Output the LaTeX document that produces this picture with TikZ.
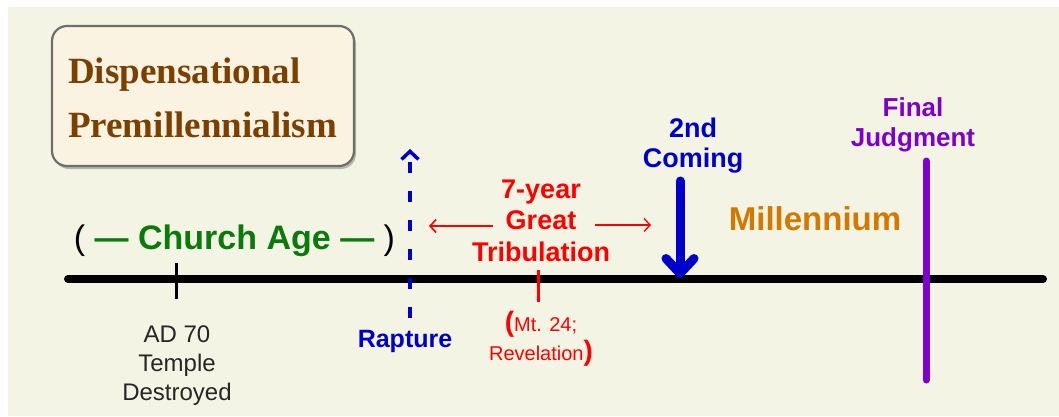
\documentclass[tikz,border=0pt]{standalone}
\usepackage{fontspec}
\setmainfont{Liberation Sans}
\newfontfamily\titlefont{Liberation Serif}
\usetikzlibrary{arrows.meta,shadows}
\definecolor{bgc}{HTML}{F4F4E4}
\definecolor{boxfill}{HTML}{FBF3E2}
\definecolor{boxline}{HTML}{6E6E6E}
\definecolor{brownc}{HTML}{7B3F00}
\definecolor{greenc}{HTML}{0A7A0A}
\definecolor{bluec}{HTML}{0000CC}
\definecolor{redc}{HTML}{FF0000}
\definecolor{orangec}{HTML}{D47800}
\definecolor{purplec}{HTML}{7F00CC}
\begin{document}
\begin{tikzpicture}[x=1pt,y=-1pt,
  titlebox/.style={draw=boxline, line width=2.2pt, fill=boxfill, rounded corners=15pt,
    drop shadow={shadow xshift=2pt, shadow yshift=-3pt, opacity=0.25, fill=black},
    minimum width=302pt, minimum height=140pt, inner sep=0pt},
  lbl/.style={inner sep=0pt, align=center, anchor=base},
  tick/.style={line width=3pt},
]
\useasboundingbox (0,0) rectangle (1059,416);
\fill[bgc] (8,7) rectangle (1059,416);

% title
\node[titlebox] (titlebox) at (203,96) {};
\node[inner sep=0pt, anchor=base west, align=left, text=brownc,
  font=\titlefont\bfseries\fontsize{37}{54}\selectfont] (title) at (68,137)
  {Dispensational\\Premillennialism};

% timeline
\coordinate (tlL) at (68,279);
\coordinate (tlR) at (1043,279);
\draw[line width=8pt, line cap=round] (tlL) -- (tlR);

% AD 70
\coordinate (adT) at (176,263);
\coordinate (adB) at (176,299);
\draw[tick] (adT) -- (adB);
\node[lbl, font=\fontsize{24}{29}\selectfont, text=black!85] (ad) at (177,400)
  {AD 70\\Temple\\Destroyed};

% church age
\node[lbl, font=\fontsize{34}{40}\selectfont] (church) at (234.5,249)
  {( {\color{greenc}\bfseries — Church Age —} )};

% rapture
\coordinate (rapB) at (410,318);
\coordinate (rapT) at (410,149);
\draw[bluec, line width=3.5pt, dash pattern=on 11pt off 18pt,
  -{Straight Barb[length=8pt,width=17pt]}] (rapB) -- (rapT);
\node[lbl, font=\bfseries\fontsize{25}{30}\selectfont, text=bluec] (rapture) at (405,347) {Rapture};

% tribulation
\node[lbl, font=\bfseries\fontsize{27}{31.5}\selectfont, text=redc] (trib) at (541,261)
  {7-year\\Great\\Tribulation};
\coordinate (tribLs) at (493,226);
\coordinate (tribLe) at (429,226);
\coordinate (tribRs) at (595,225);
\coordinate (tribRe) at (651,225);
\draw[redc, line width=1.6pt, -{Straight Barb[length=6pt,width=13pt]}] (tribLs) -- (tribLe);
\draw[redc, line width=1.3pt, -{Straight Barb[length=6pt,width=13pt]}] (tribRs) -- (tribRe);
\coordinate (rtT) at (538,270);
\coordinate (rtB) at (538,302);
\draw[tick, redc] (rtT) -- (rtB);
\node[lbl, font=\fontsize{20}{29}\selectfont, text=redc] (mt) at (541,360)
  {{\bfseries\fontsize{28}{28}\selectfont(}Mt. 24;\\Revelation{\bfseries\fontsize{28}{28}\selectfont)}};

% 2nd coming
\node[lbl, font=\bfseries\fontsize{27}{30}\selectfont, text=bluec] (coming) at (693,167)
  {2nd\\Coming};
\coordinate (cmT) at (680,181);
\coordinate (cmB) at (680,278);
\draw[bluec, line width=9pt, line cap=round,
  -{Straight Barb[length=15pt,width=28pt,round]}] (cmT) -- (cmB);

% millennium
\node[lbl, font=\bfseries\fontsize{33}{40}\selectfont, text=orangec] (mill) at (815,230) {Millennium};

% final judgment
\node[lbl, font=\bfseries\fontsize{26}{30}\selectfont, text=purplec] (final) at (913,146)
  {Final\\Judgment};
\coordinate (fjT) at (926,161);
\coordinate (fjB) at (926,380);
\draw[purplec, line width=7pt, line cap=round] (fjT) -- (fjB);
\end{tikzpicture}
\end{document}
